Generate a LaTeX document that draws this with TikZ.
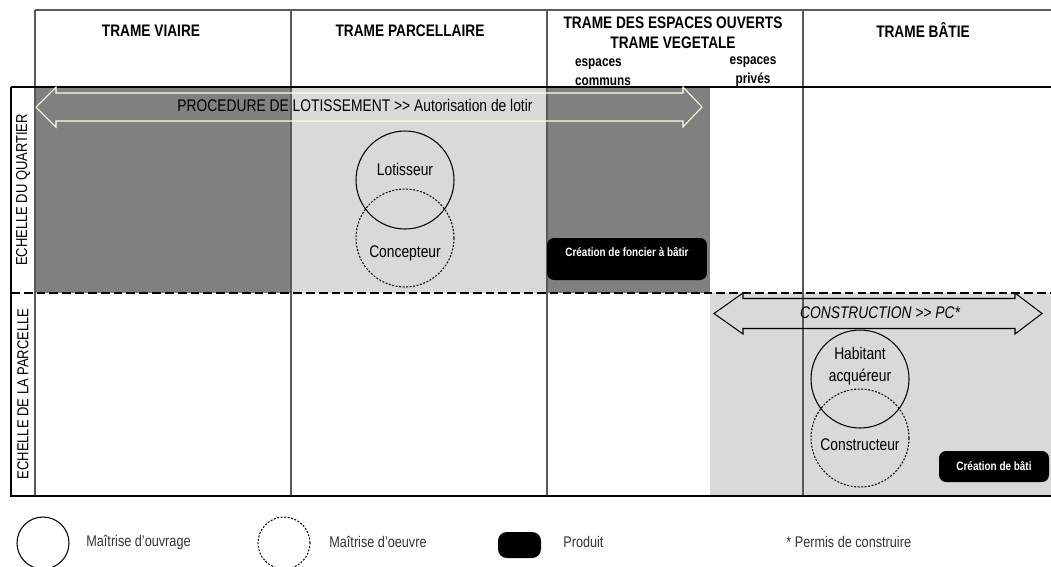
\documentclass[tikz,border=0pt]{standalone}
\usepackage{fontspec}
\setmainfont{Liberation Sans}[FakeStretch=0.82]
\definecolor{darkfill}{HTML}{808080}
\definecolor{lightfill}{HTML}{D9D9D9}
\definecolor{cream}{HTML}{FFFFE0}
\definecolor{gridline}{HTML}{5A5A5A}
\newcommand{\gtgt}{>\kern0pt>}

\begin{document}
\begin{tikzpicture}[x=0.02cm, y=-0.02cm, every node/.style={font=\fontsize{9.6}{12.5}\selectfont, inner sep=0pt}, head/.style={font=\fontsize{9.5}{11.3}\selectfont\bfseries, align=center}, sub/.style={font=\fontsize{8.2}{10.8}\selectfont\bfseries}, mo/.style={draw, circle, minimum size=1.96cm, line width=0.6pt}, moe/.style={mo, dash pattern=on 1.1pt off 0.9pt}, produit/.style={fill=black, rounded corners=4pt, text=white, font=\fontsize{6.9}{8}\selectfont\bfseries}, leg/.style={font=\fontsize{8.8}{10}\selectfont, text=black!80, anchor=west}, rowlab/.style={rotate=90, font=\fontsize{9}{10}\selectfont}]
	\useasboundingbox (0,0) rectangle (1051,566);
	% fonds
	\fill[darkfill] (35,87) rectangle (291,293);
	\fill[lightfill] (291,87) rectangle (547,293);
	\fill[darkfill] (547,87) rectangle (710,293);
	\fill[lightfill] (710,293) rectangle (1051,496);
	% grille
	\draw[gridline, line width=0.8pt] (35,10) -- (1051,10);
	\foreach \x in {35,291,547,803}
		\draw[gridline, line width=0.8pt] (\x,10) -- (\x,496);
	\draw[line width=0.7pt] (11,87) -- (1051,87);
	\draw[line width=0.7pt, dash pattern=on 5pt off 2.3pt] (11,293) -- (1051,293);
	\draw[line width=0.7pt] (11,87) -- (11,496) -- (1051,496);
	% en-tetes
	\node[head] (viaire) at (151,31) {TRAME VIAIRE};
	\node[head] (parcel) at (410,31) {TRAME PARCELLAIRE};
	\node[head] (ouverts) at (673,33) {TRAME DES ESPACES OUVERTS\\TRAME VEGETALE};
	\node[sub, align=left] (communs) at (603,72) {espaces\\communs};
	\node[sub, align=center] (prives) at (753,72) {espaces\\priv\'es};
	\node[head] (batie) at (923,30) {TRAME B\^ATIE};
	\node[rowlab] (quartier) at (23,190) {ECHELLE DU QUARTIER};
	\node[rowlab] (parcelle) at (23,394) {ECHELLE DE LA PARCELLE};
	% fleches
	\draw[cream, line width=0.6pt] (36,107) -- (56,87) -- (56,93) -- (683,93) -- (683,87) -- (702,107) -- (683,127) -- (683,121) -- (56,121) -- (56,127) -- cycle;
	\node (lotir) at (355,105) {PROCEDURE DE LOTISSEMENT \gtgt{} Autorisation de lotir};
	\draw[line width=0.6pt] (714,313.5) -- (743,293) -- (743,298.5) -- (1015,298.5) -- (1015,293) -- (1042,313.5) -- (1015,334) -- (1015,328.5) -- (743,328.5) -- (743,334) -- cycle;
	\node[font=\fontsize{9.6}{12}\selectfont\itshape] (pc) at (880,313) {CONSTRUCTION \gtgt{} PC*};
	% acteurs
	\node[mo] (lotisseur) at (405,180) {};
	\node[moe] (concepteur) at (405,238) {};
	\node (lotisseur-t) at (405,169) {Lotisseur};
	\node (concepteur-t) at (405,253) {Concepteur};
	\node[mo] (habitant) at (860,379) {};
	\node[moe] (constructeur) at (860,438) {};
	\node[align=center] (habitant-t) at (860,366) {Habitant\\acqu\'ereur};
	\node (constructeur-t) at (860,445) {Constructeur};
	% produits
	\node[produit, minimum width=3.2cm, minimum height=0.84cm, text height=5pt, text depth=8pt] (foncier) at (627,259) {Cr\'eation de foncier \`a b\^atir};
	\node[produit, minimum width=2.2cm, minimum height=0.62cm] (bati) at (994,466.5) {Cr\'eation de b\^ati};
	% legende
	\node[draw, circle, minimum size=1.04cm, line width=0.6pt] (leg-mo) at (43,543) {};
	\node[leg] (leg-mo-t) at (86,542) {Ma\^itrise d’ouvrage};
	\node[draw, circle, minimum size=1.04cm, line width=0.6pt, dash pattern=on 1.1pt off 0.9pt] (leg-moe) at (284,543) {};
	\node[leg] (leg-moe-t) at (329,542) {Ma\^itrise d’oeuvre};
	\node[fill=black, rounded corners=5pt, minimum width=0.86cm, minimum height=0.52cm] (leg-prod) at (519.5,545) {};
	\node[leg] (leg-prod-t) at (563,542) {Produit};
	\node[leg] (leg-pc) at (786,542) {* Permis de construire};
\end{tikzpicture}
\end{document}
